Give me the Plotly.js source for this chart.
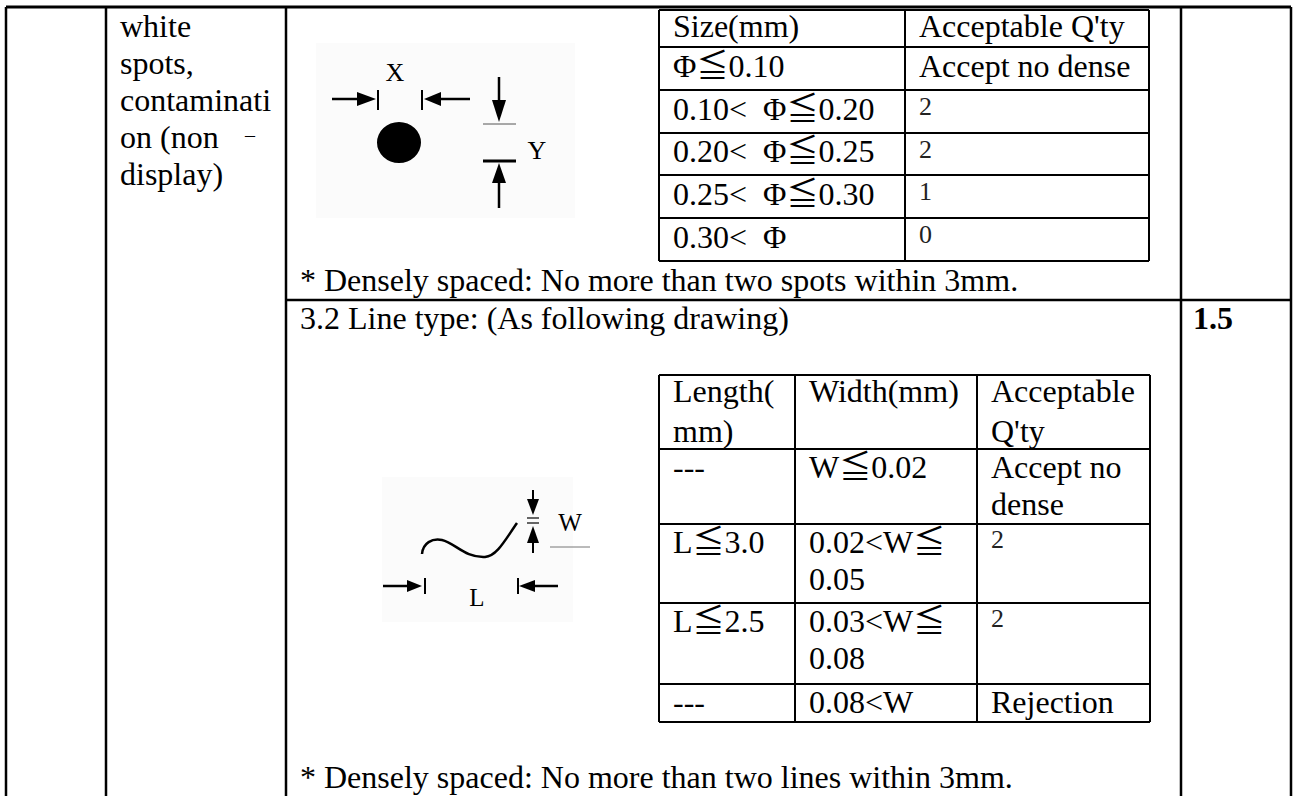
<!DOCTYPE html>
<html><head><meta charset="utf-8">
<script src="https://cdn.plot.ly/plotly-3.0.1.min.js"></script>
<style>html,body{margin:0;padding:0;background:#fff;}#chart{width:1293px;height:796px;}</style>
</head><body><div id="chart"></div>
<script>
// ---------- text content ----------
const defectLines = ["white", "spots,", "contaminati", "on (non", "display)"];
const defectDash = "–";
const spotHeader = ["Size(mm)", "Acceptable Q'ty"];
const spotSizes = ["Φ≦0.10", "0.10<  Φ≦0.20", "0.20<  Φ≦0.25", "0.25<  Φ≦0.30", "0.30<  Φ"];
const spotQtyText = ["Accept no dense"];
const spotQtyNum = ["2", "2", "1", "0"];
const spotNote = "* Densely spaced: No more than two spots within 3mm.";
const lineTitle = "3.2 Line type: (As following drawing)";
const lineHeader = [["Length(", "mm)"], ["Width(mm)"], ["Acceptable", "Q'ty"]];
const lineLength = [["---"], ["L≦3.0"], ["L≦2.5"], ["---"]];
const lineWidthCol = [["W≦0.02"], ["0.02<W≦", "0.05"], ["0.03<W≦", "0.08"], ["0.08<W"]];
const lineQty = [["Accept no", "dense"], null, null, ["Rejection"]];
const lineQtyNum = [null, "2", "2", null];
const lineNote = "* Densely spaced: No more than two lines within 3mm.";
const scoreText = "1.5";
const figLabels1 = ["X", "Y"];
const figLabels2 = ["W", "L"];

// ---------- geometry (layout only) ----------
const W = 1293, H = 796;
const outerX = [6, 106, 286, 1181, 1291];
const outerTop = 7, sepY = 300;
const t1X = [659, 905, 1149];
const t1Y = [10, 47, 90, 133, 175, 218, 261];
const t2X = [659, 795, 977, 1150];
const t2Y = [375, 449, 524, 603, 684, 722];
const PAD = 14, LS = 37, FIRST = 21;
const SERIF = "Liberation Serif, Times New Roman, DejaVu Serif, Noto Sans CJK TC, serif";
const FS = 32;

const shapes = [];
function line(x0, y0, x1, y1, w, c) {
  shapes.push({type: 'line', xref: 'x', yref: 'y', x0, y0, x1, y1, line: {color: c || '#000', width: w || 2}});
}
function poly(pts, c) {
  let d = 'M ' + pts.map(p => p[0] + ' ' + p[1]).join(' L ') + ' Z';
  shapes.push({type: 'path', xref: 'x', yref: 'y', path: d, fillcolor: c || '#000', line: {width: 0}});
}
function rect(x0, y0, x1, y1, fill) {
  shapes.push({type: 'rect', xref: 'x', yref: 'y', x0, y0, x1, y1, fillcolor: fill, line: {width: 0}, layer: 'below'});
}

// figure backgrounds
rect(316, 43, 575, 218, '#fbfbfb');
rect(382, 477, 573, 622, '#fbfbfb');

// outer grid
line(outerX[0], outerTop, outerX[4], outerTop, 3);
outerX.forEach(x => line(x, outerTop, x, H, 2.5));
line(outerX[2], sepY, outerX[4], sepY, 2.5);

// inner table 1
t1Y.forEach(y => line(t1X[0], y, t1X[2], y, 2));
t1X.forEach(x => line(x, t1Y[0], x, t1Y[t1Y.length - 1], 2));
// inner table 2
t2Y.forEach(y => line(t2X[0], y, t2X[3], y, 2));
t2X.forEach(x => line(x, t2Y[0], x, t2Y[t2Y.length - 1], 2));

// figure 1: spot drawing
line(332, 99, 360, 99, 2.5);
poly([[357, 92], [357, 106], [376, 99]]);
line(378, 90, 378, 110, 2);
line(422, 90, 422, 110, 2);
poly([[441, 92], [441, 106], [424, 99]]);
line(441, 99, 470, 99, 2.5);
shapes.push({type: 'circle', xref: 'x', yref: 'y', x0: 377, y0: 122, x1: 421, y1: 163, fillcolor: '#000', line: {width: 0}});
line(499, 77, 499, 101, 2.5);
poly([[492, 100], [506, 100], [499, 122]]);
line(483, 124, 516, 124, 1, '#555');
line(483, 161, 516, 161, 3);
poly([[492, 183], [506, 183], [499, 163]]);
line(499, 183, 499, 208, 2.5);

// figure 2: line drawing
shapes.push({type: 'path', xref: 'x', yref: 'y',
  path: 'M 422 554 C 423 543, 432 538, 442 540 C 455 543, 465 558, 485 557 C 497 556, 505 540, 517 523',
  line: {color: '#000', width: 2.5}});
line(533, 490, 533, 500, 2);
poly([[527, 499], [539, 499], [533, 515]]);
line(527, 518, 539, 518, 1.2);
line(527, 523, 539, 523, 1.2);
poly([[527, 543], [539, 543], [533, 526]]);
line(533, 543, 533, 553, 2);
line(550, 547, 590, 547, 1, '#777');
line(383, 586, 408, 586, 2.5);
poly([[407, 580], [407, 592], [422, 586]]);
line(425, 578, 425, 594, 2);
line(518, 578, 518, 594, 2);
poly([[535, 580], [535, 592], [519, 586]]);
line(535, 586, 558, 586, 2.5);

// ---------- text traces ----------
const traces = [];
function textTrace(xs, ys, texts, size, opts) {
  opts = opts || {};
  traces.push({
    type: 'scatter', mode: 'text', x: xs, y: ys, text: texts,
    textposition: opts.pos || 'middle right',
    textfont: {family: opts.family || SERIF, size: size, color: opts.color || '#000', weight: opts.weight || 'normal'},
    hoverinfo: 'skip', showlegend: false, cliponaxis: false
  });
}

// defect description column
textTrace(defectLines.map(() => 120), defectLines.map((_, i) => 29 + i * LS), defectLines, FS);
textTrace([245], [137], [defectDash], 20);

// table 1
const t1c0 = [], t1c0y = [];
[spotHeader[0]].concat(spotSizes).forEach((t, i) => { t1c0.push(t); t1c0y.push((t1Y[i] + t1Y[i + 1]) / 2); });
textTrace(t1c0.map(() => t1X[0] + PAD), t1c0y, t1c0, FS);
textTrace([t1X[1] + PAD, t1X[1] + PAD], [(t1Y[0] + t1Y[1]) / 2, (t1Y[1] + t1Y[2]) / 2], [spotHeader[1], spotQtyText[0]], FS);
textTrace(spotQtyNum.map(() => t1X[1] + PAD), spotQtyNum.map((_, i) => t1Y[i + 2] + 18), spotQtyNum, 26, {color: '#222'});
textTrace([300], [283], [spotNote], FS);

// section 3.2
textTrace([300], [321], [lineTitle], FS);
textTrace([1193], [321], [scoreText], FS, {weight: 'bold'});

function cellLines(rowsArr, colIdx, startRow) {
  const xs = [], ys = [], ts = [];
  rowsArr.forEach((cell, r) => {
    if (!cell) return;
    cell.forEach((t, k) => {
      xs.push(t2X[colIdx] + PAD);
      ys.push(t2Y[startRow + r] + FIRST + k * LS);
      ts.push(t);
    });
  });
  return [xs, ys, ts];
}
// header
lineHeader.forEach((cell, c) => {
  const xs = [], ys = [], ts = [];
  cell.forEach((t, k) => { xs.push(t2X[c] + PAD); ys.push(t2Y[0] + 19 + k * 40); ts.push(t); });
  textTrace(xs, ys, ts, FS);
});
let a = cellLines(lineLength, 0, 1); textTrace(a[0], a[1], a[2], FS);
a = cellLines(lineWidthCol, 1, 1); textTrace(a[0], a[1], a[2], FS);
a = cellLines(lineQty, 2, 1); textTrace(a[0], a[1], a[2], FS);
const nx = [], ny = [], nt = [];
lineQtyNum.forEach((t, r) => { if (t) { nx.push(t2X[2] + PAD); ny.push(t2Y[r + 1] + 17); nt.push(t); } });
textTrace(nx, ny, nt, 26, {color: '#222'});
textTrace([300], [780], [lineNote], FS);

// figure labels
textTrace([395, 537], [74, 152], figLabels1, 26, {pos: 'middle center'});
textTrace([570, 477], [525, 600], figLabels2, 25, {pos: 'middle center'});

const layout = {
  width: W, height: H,
  margin: {l: 0, r: 0, t: 0, b: 0, pad: 0},
  paper_bgcolor: '#fff', plot_bgcolor: '#fff',
  xaxis: {range: [0, W], visible: false, fixedrange: true},
  yaxis: {range: [H, 0], visible: false, fixedrange: true},
  shapes: shapes,
  showlegend: false
};
Plotly.newPlot('chart', traces, layout, {staticPlot: true, displayModeBar: false});
</script>
</body></html>
